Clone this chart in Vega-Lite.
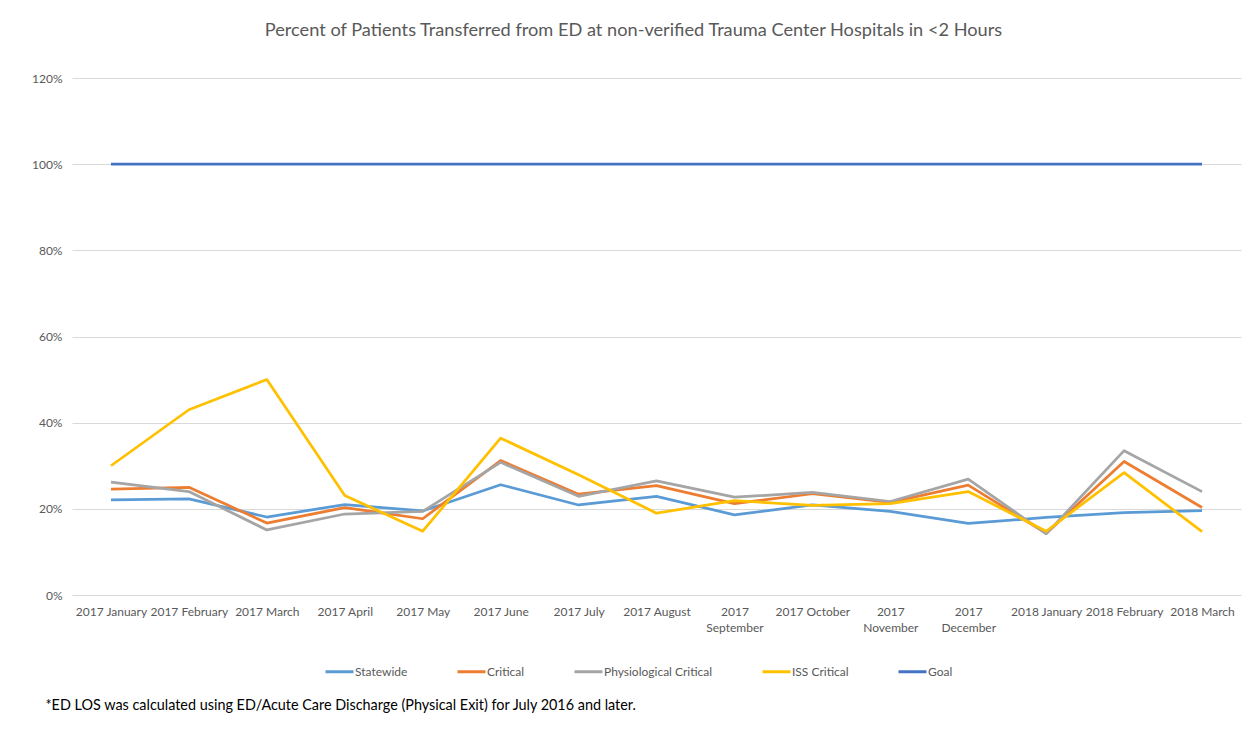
{
  "$schema": "https://vega.github.io/schema/vega-lite/v6.json",
  "width": 1169,
  "height": 517,
  "autosize": {"type": "none"},
  "padding": {"left": 72, "top": 78, "right": 12, "bottom": 143},
  "background": "white",
  "title": {
    "text": "Percent of Patients Transferred from ED at non-verified Trauma Center Hospitals in <2 Hours",
    "font": "Lato",
    "fontSize": 18.2,
    "fontWeight": "normal",
    "color": "#595959",
    "anchor": "middle",
    "dx": -23,
    "offset": 32
  },
  "data": {
    "values": [
      {"month": "2017 January", "series": "Statewide", "value": 0.221},
      {"month": "2017 February", "series": "Statewide", "value": 0.223},
      {"month": "2017 March", "series": "Statewide", "value": 0.181},
      {"month": "2017 April", "series": "Statewide", "value": 0.210},
      {"month": "2017 May", "series": "Statewide", "value": 0.195},
      {"month": "2017 June", "series": "Statewide", "value": 0.256},
      {"month": "2017 July", "series": "Statewide", "value": 0.209},
      {"month": "2017 August", "series": "Statewide", "value": 0.229},
      {"month": "2017 September", "series": "Statewide", "value": 0.186},
      {"month": "2017 October", "series": "Statewide", "value": 0.209},
      {"month": "2017 November", "series": "Statewide", "value": 0.194},
      {"month": "2017 December", "series": "Statewide", "value": 0.166},
      {"month": "2018 January", "series": "Statewide", "value": 0.180},
      {"month": "2018 February", "series": "Statewide", "value": 0.191},
      {"month": "2018 March", "series": "Statewide", "value": 0.196},
      {"month": "2017 January", "series": "Critical", "value": 0.246},
      {"month": "2017 February", "series": "Critical", "value": 0.250},
      {"month": "2017 March", "series": "Critical", "value": 0.167},
      {"month": "2017 April", "series": "Critical", "value": 0.203},
      {"month": "2017 May", "series": "Critical", "value": 0.177},
      {"month": "2017 June", "series": "Critical", "value": 0.312},
      {"month": "2017 July", "series": "Critical", "value": 0.234},
      {"month": "2017 August", "series": "Critical", "value": 0.254},
      {"month": "2017 September", "series": "Critical", "value": 0.212},
      {"month": "2017 October", "series": "Critical", "value": 0.235},
      {"month": "2017 November", "series": "Critical", "value": 0.215},
      {"month": "2017 December", "series": "Critical", "value": 0.255},
      {"month": "2018 January", "series": "Critical", "value": 0.143},
      {"month": "2018 February", "series": "Critical", "value": 0.310},
      {"month": "2018 March", "series": "Critical", "value": 0.203},
      {"month": "2017 January", "series": "Physiological Critical", "value": 0.262},
      {"month": "2017 February", "series": "Physiological Critical", "value": 0.240},
      {"month": "2017 March", "series": "Physiological Critical", "value": 0.151},
      {"month": "2017 April", "series": "Physiological Critical", "value": 0.188},
      {"month": "2017 May", "series": "Physiological Critical", "value": 0.194},
      {"month": "2017 June", "series": "Physiological Critical", "value": 0.308},
      {"month": "2017 July", "series": "Physiological Critical", "value": 0.229},
      {"month": "2017 August", "series": "Physiological Critical", "value": 0.265},
      {"month": "2017 September", "series": "Physiological Critical", "value": 0.227},
      {"month": "2017 October", "series": "Physiological Critical", "value": 0.238},
      {"month": "2017 November", "series": "Physiological Critical", "value": 0.217},
      {"month": "2017 December", "series": "Physiological Critical", "value": 0.269},
      {"month": "2018 January", "series": "Physiological Critical", "value": 0.142},
      {"month": "2018 February", "series": "Physiological Critical", "value": 0.335},
      {"month": "2018 March", "series": "Physiological Critical", "value": 0.240},
      {"month": "2017 January", "series": "ISS Critical", "value": 0.300},
      {"month": "2017 February", "series": "ISS Critical", "value": 0.430},
      {"month": "2017 March", "series": "ISS Critical", "value": 0.500},
      {"month": "2017 April", "series": "ISS Critical", "value": 0.231},
      {"month": "2017 May", "series": "ISS Critical", "value": 0.148},
      {"month": "2017 June", "series": "ISS Critical", "value": 0.364},
      {"month": "2017 July", "series": "ISS Critical", "value": 0.279},
      {"month": "2017 August", "series": "ISS Critical", "value": 0.190},
      {"month": "2017 September", "series": "ISS Critical", "value": 0.219},
      {"month": "2017 October", "series": "ISS Critical", "value": 0.208},
      {"month": "2017 November", "series": "ISS Critical", "value": 0.212},
      {"month": "2017 December", "series": "ISS Critical", "value": 0.240},
      {"month": "2018 January", "series": "ISS Critical", "value": 0.148},
      {"month": "2018 February", "series": "ISS Critical", "value": 0.284},
      {"month": "2018 March", "series": "ISS Critical", "value": 0.147},
      {"month": "2017 January", "series": "Goal", "value": 1.0},
      {"month": "2017 February", "series": "Goal", "value": 1.0},
      {"month": "2017 March", "series": "Goal", "value": 1.0},
      {"month": "2017 April", "series": "Goal", "value": 1.0},
      {"month": "2017 May", "series": "Goal", "value": 1.0},
      {"month": "2017 June", "series": "Goal", "value": 1.0},
      {"month": "2017 July", "series": "Goal", "value": 1.0},
      {"month": "2017 August", "series": "Goal", "value": 1.0},
      {"month": "2017 September", "series": "Goal", "value": 1.0},
      {"month": "2017 October", "series": "Goal", "value": 1.0},
      {"month": "2017 November", "series": "Goal", "value": 1.0},
      {"month": "2017 December", "series": "Goal", "value": 1.0},
      {"month": "2018 January", "series": "Goal", "value": 1.0},
      {"month": "2018 February", "series": "Goal", "value": 1.0},
      {"month": "2018 March", "series": "Goal", "value": 1.0}
    ]
  },
  "mark": {"type": "line", "strokeWidth": 2.75, "strokeJoin": "round", "strokeCap": "butt"},
  "encoding": {
    "x": {
      "field": "month",
      "type": "nominal",
      "sort": null,
      "scale": {"type": "point", "padding": 0.5},
      "axis": {
        "title": "*ED LOS was calculated using ED/Acute Care Discharge (Physical Exit) for July 2016 and later.",
        "titleFont": "Lato",
        "titleFontSize": 14.4,
        "titleFontWeight": "normal",
        "titleColor": "#000000",
        "titleAnchor": "start",
        "titleAlign": "left",
        "titleBaseline": "alphabetic",
        "titleX": -27,
        "titleY": 114,
        "labelAngle": 0,
        "labelFont": "Lato",
        "labelFontSize": 12,
        "labelColor": "#595959",
        "labelPadding": 11,
        "labelLineHeight": 16,
        "labelBaseline": "top",
        "labelExpr": "indexof(['2017 September','2017 November','2017 December'], datum.label) >= 0 ? split(datum.label, ' ') : datum.label",
        "ticks": false,
        "domain": false,
        "grid": false
      }
    },
    "y": {
      "field": "value",
      "type": "quantitative",
      "scale": {"domain": [0, 1.2], "nice": false},
      "axis": {
        "title": null,
        "values": [0, 0.2, 0.4, 0.6, 0.8, 1.0, 1.2],
        "format": ".0%",
        "labelFont": "Lato",
        "labelFontSize": 12,
        "labelColor": "#595959",
        "labelPadding": 10,
        "ticks": false,
        "domain": false,
        "grid": true,
        "gridColor": "#D9D9D9",
        "gridWidth": 1
      }
    },
    "color": {
      "field": "series",
      "type": "nominal",
      "sort": ["Statewide", "Critical", "Physiological Critical", "ISS Critical", "Goal"],
      "scale": {
        "domain": ["Statewide", "Critical", "Physiological Critical", "ISS Critical", "Goal"],
        "range": ["#5B9BD5", "#ED7D31", "#A5A5A5", "#FFC000", "#4472C4"]
      },
      "legend": {
        "title": null,
        "orient": "none",
        "legendX": 252,
        "legendY": 578,
        "direction": "horizontal",
        "columns": 5,
        "symbolType": "stroke",
        "symbolSize": 784,
        "symbolStrokeWidth": 3,
        "labelOffset": 0,
        "columnPadding": 43,
        "labelFont": "Lato",
        "labelFontSize": 12,
        "labelColor": "#595959"
      }
    }
  },
  "config": {"view": {"stroke": null}}
}
